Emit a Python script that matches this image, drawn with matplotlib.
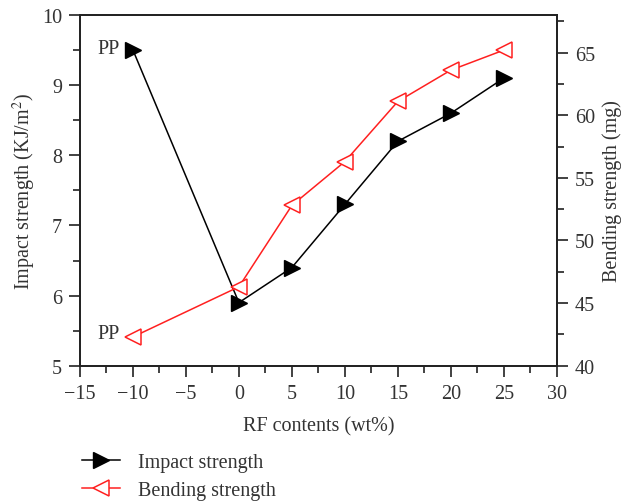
import matplotlib
matplotlib.use("Agg")
import matplotlib.pyplot as plt
from matplotlib.ticker import MultipleLocator

plt.rcParams['font.family'] = ['Liberation Serif', 'DejaVu Serif']
plt.rcParams['mathtext.fontset'] = 'stix'

# --- data ---
rf = [-10, 0, 5, 10, 15, 20, 25]
impact = [9.5, 5.9, 6.4, 7.3, 8.2, 8.6, 9.1]
bending = [42.3, 46.3, 52.8, 56.3, 61.1, 63.6, 65.2]

txt = '#333333'
fs = 14.5

fig = plt.figure(figsize=(6.23, 5.02), dpi=100)
ax = fig.add_axes([0.1284, 0.2695, 0.7652, 0.6985])
ax2 = ax.twinx()

l1, = ax.plot(rf, impact, color='black', lw=1.1, marker='>', ms=11,
              mfc='black', mec='black', label='Impact strength', zorder=3)
l2, = ax2.plot(rf, bending, color='#ff2020', lw=1.1, marker='<', ms=11,
               mfc='white', mec='#ff2020', mew=1.1, label='Bending strength')

ax.set_xlim(-15, 30)
ax.set_ylim(5, 10)
ax2.set_ylim(40, 68)

ax.xaxis.set_major_locator(MultipleLocator(5))
ax.xaxis.set_minor_locator(MultipleLocator(2.5))
ax.yaxis.set_major_locator(MultipleLocator(1))
ax.yaxis.set_minor_locator(MultipleLocator(0.5))
ax2.yaxis.set_major_locator(MultipleLocator(5))
ax2.yaxis.set_minor_locator(MultipleLocator(2.5))

for a in (ax, ax2):
    a.tick_params(which='major', direction='out', length=8, width=1.3, pad=5,
                  labelsize=fs, colors=txt, labelcolor=txt)
    a.tick_params(which='minor', direction='out', length=5, width=1.3, colors=txt)
    for s in a.spines.values():
        s.set_linewidth(1.3)
        s.set_color('#222222')

ax.set_xticklabels([f'{int(v)}'.replace('-', '\u2212') for v in ax.get_xticks()])

ax.set_xlabel('RF contents (wt%)', fontsize=fs, color=txt, labelpad=10)
ax.set_ylabel('Impact strength (KJ/m$^2$)', fontsize=fs, color=txt, labelpad=3)
ax2.set_ylabel('Bending strength (mg)', fontsize=fs, color=txt, labelpad=5)

ax.text(-11.3, impact[0] + 0.03, 'PP', fontsize=fs, color=txt, ha='right', va='center')
ax2.text(-11.3, bending[0] + 0.3, 'PP', fontsize=fs, color=txt, ha='right', va='center')

fig.legend(handles=[l1, l2], loc='upper left', bbox_to_anchor=(0.118, 0.112),
           frameon=False, fontsize=fs, handlelength=1.9, labelspacing=0.45,
           handletextpad=0.9, labelcolor=txt, borderaxespad=0)

fig.savefig('out.png', dpi=100)
